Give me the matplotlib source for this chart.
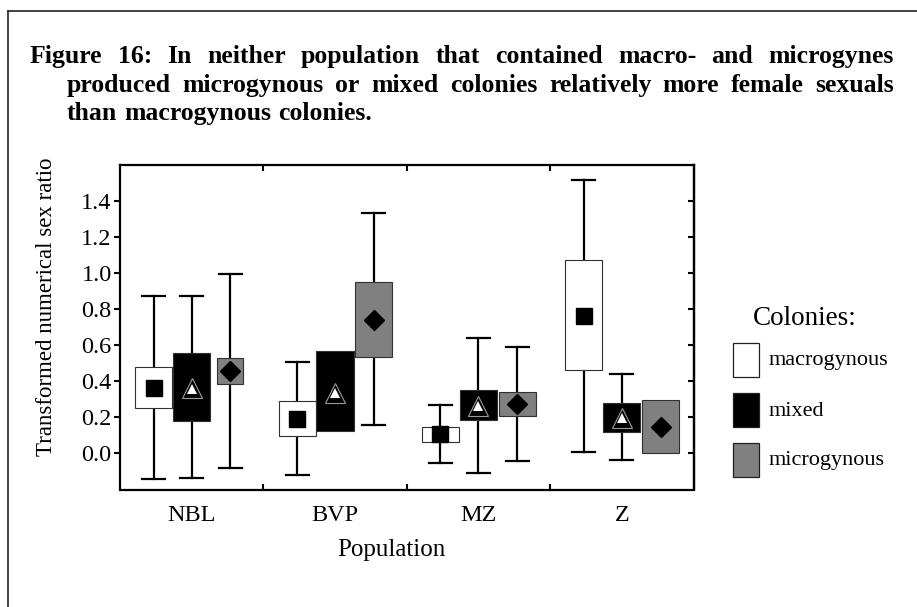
import numpy as np
import matplotlib
matplotlib.use("Agg")
import matplotlib.pyplot as plt
from matplotlib.patches import Rectangle
from matplotlib.lines import Line2D

plt.rcParams['font.family'] = ['Liberation Serif', 'DejaVu Serif']

# data
populations = ['NBL', 'BVP', 'MZ', 'Z']
colonies = ['macrogynous', 'mixed', 'microgynous']

# per colony type, one value per population (nan = no whisker drawn)
whisker_low = {
    'macrogynous': [-0.145, -0.126, -0.060, 0.005],
    'mixed':       [-0.141, np.nan, -0.111, -0.040],
    'microgynous': [-0.083, 0.152, -0.046, np.nan],
}
box_low = {
    'macrogynous': [0.248, 0.091, 0.059, 0.460],
    'mixed':       [0.174, 0.120, 0.185, 0.117],
    'microgynous': [0.384, 0.532, 0.204, 0.000],
}
mean_val = {
    'macrogynous': [0.362, 0.189, 0.102, 0.764],
    'mixed':       [0.358, 0.334, 0.262, 0.195],
    'microgynous': [0.458, 0.742, 0.272, 0.145],
}
box_high = {
    'macrogynous': [0.476, 0.287, 0.142, 1.072],
    'mixed':       [0.556, 0.564, 0.350, 0.278],
    'microgynous': [0.526, 0.949, 0.341, 0.291],
}
whisker_high = {
    'macrogynous': [0.871, 0.504, 0.267, 1.520],
    'mixed':       [0.871, np.nan, 0.640, 0.441],
    'microgynous': [0.994, 1.333, 0.591, np.nan],
}

y_ticks = [0.0, 0.2, 0.4, 0.6, 0.8, 1.0, 1.2, 1.4]

title_lines = [
    "Figure 16: In neither population that contained macro- and microgynes",
    "produced microgynous or mixed colonies relatively more female sexuals",
    "than macrogynous colonies.",
]

# styles
face = {'macrogynous': 'white', 'mixed': 'black', 'microgynous': '#808080'}
offset = {'macrogynous': -0.265, 'mixed': 0.0, 'microgynous': 0.27}
W, H = 917, 607
box_w = 0.259
cap_w = 0.16

fig = plt.figure(figsize=(W / 100, H / 100), dpi=100)


def fx(px):
    return px / W


def fy(py):
    return 1 - py / H


ax = fig.add_axes([fx(120), fy(489.5), fx(693.5 - 120), (489.5 - 165) / H])

for col in colonies:
    for i, pop in enumerate(populations):
        xc = i + offset[col]
        bw = box_w
        if pop == 'NBL' and col == 'microgynous':
            bw = 0.18  # narrower box in the original
        wl, wh = whisker_low[col][i], whisker_high[col][i]
        bl, bh = box_low[col][i], box_high[col][i]
        if not np.isnan(wl):
            ax.plot([xc, xc], [wl, bl], color='black', lw=1.6, zorder=1)
            ax.plot([xc - cap_w / 2, xc + cap_w / 2], [wl, wl], color='black', lw=1.6, zorder=1)
        if not np.isnan(wh):
            ax.plot([xc, xc], [bh, wh], color='black', lw=1.6, zorder=1)
            ax.plot([xc - cap_w / 2, xc + cap_w / 2], [wh, wh], color='black', lw=1.6, zorder=1)
        ax.add_patch(Rectangle((xc - bw / 2, bl), bw, bh - bl, facecolor=face[col],
                               edgecolor='#303030', lw=0.8, zorder=2))
        m = mean_val[col][i]
        if col == 'macrogynous':
            ax.plot(xc, m, marker='s', ms=11, color='black', mec='black', zorder=3)
        elif col == 'mixed':
            ax.plot(xc, m, marker='^', ms=15, mfc='black', mec='#9a9a9a', mew=0.8, zorder=3)
            ax.plot(xc, m - 0.004, marker='^', ms=7.5, mfc='white', mec='white', mew=0, zorder=4)
        else:
            ax.plot(xc, m, marker='D', ms=10, color='black', zorder=3)

ax.set_xlim(-0.5, 3.5)
ax.set_ylim(-0.205, 1.603)
ax.set_yticks(y_ticks)
ax.set_yticklabels(['%.1f' % v for v in y_ticks], fontsize=17.5)
ax.set_xticks(range(len(populations)))
ax.set_xticklabels(populations, fontsize=17.5)
ax.set_xticks([0.5, 1.5, 2.5], minor=True)
ax.tick_params(axis='x', which='major', length=0, pad=11)
ax.tick_params(axis='x', which='minor', direction='in', top=True, bottom=True, length=4, width=1.5)
ax.tick_params(axis='y', which='major', direction='out', length=4, width=1.5, pad=2)
for s in ax.spines.values():
    s.set_linewidth(1.6)

sec = ax.secondary_yaxis('right')
sec.set_yticks(y_ticks)
sec.tick_params(direction='in', length=4, width=1.5, labelright=False)
sec.spines['right'].set_linewidth(1.6)

fig.text(fx(47), fy(307), 'Transformed numerical sex ratio', rotation=90,
         ha='center', va='center', fontsize=16.5)
fig.text(fx(391), fy(550), 'Population', ha='center', va='center', fontsize=18)

# legend drawn by hand
fig.text(fx(753), fy(325), 'Colonies:', ha='left', va='baseline', fontsize=19.5)
leg_top = [343, 393, 443]
for col, top in zip(colonies, leg_top):
    fig.add_artist(Rectangle((fx(733), fy(top + 34)), 26 / W, 34 / H, facecolor=face[col],
                             edgecolor='#202020', lw=0.9, transform=fig.transFigure))
    fig.text(fx(769), fy(top + 18), col, ha='left', va='center', fontsize=16)

# outer frame (cut at right and bottom)
fig.add_artist(Line2D([fx(8.3), 1.0], [fy(10.7), fy(10.7)], color='#222222', lw=1.2,
                      transform=fig.transFigure))
fig.add_artist(Line2D([fx(8.3), fx(8.3)], [fy(10.7), 0.0], color='#222222', lw=1.2,
                      transform=fig.transFigure))

# justified bold title
renderer = fig.canvas.get_renderer()
line_x0 = [30, 66.7, 66.7]
line_y = [63, 92, 120]
x_right = 894
for k, line in enumerate(title_lines):
    words = line.split(' ')
    arts = [fig.text(0, 0, w, fontsize=18.5, fontweight='bold', ha='left', va='baseline')
            for w in words]
    widths = [a.get_window_extent(renderer).width for a in arts]
    if k < 2:
        gap = (x_right - line_x0[k] - sum(widths)) / (len(words) - 1)
    else:
        gap = 7
    x = line_x0[k]
    for a, w in zip(arts, widths):
        a.set_position((fx(x), fy(line_y[k])))
        x += w + gap

fig.savefig('out.png', dpi=100)
